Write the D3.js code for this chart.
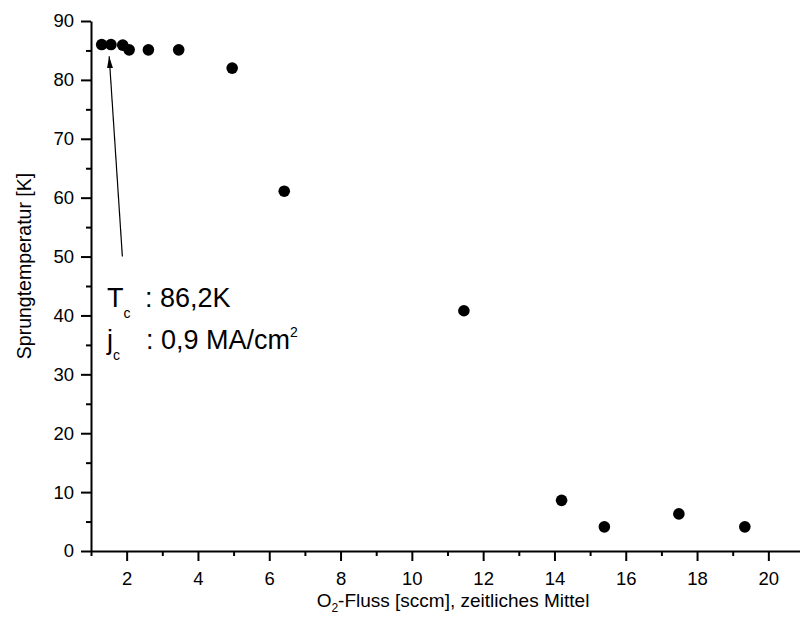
<!DOCTYPE html>
<html>
<head>
<meta charset="utf-8">
<script src="https://cdn.jsdelivr.net/npm/d3@7"></script>
<style>
  html, body { margin: 0; padding: 0; background: #fff; }
  svg { display: block; font-family: "Liberation Sans", Arial, sans-serif; }
</style>
</head>
<body>
<svg id="chart" width="800" height="634"></svg>
<script>
// ---- Data ----
const o2Flow = [1.30, 1.56, 1.89, 2.07, 2.61, 3.46, 4.96, 6.42, 11.46, 14.20, 15.40, 17.49, 19.34];
const tcValues = [86.0, 86.0, 85.9, 85.1, 85.1, 85.1, 82.0, 61.1, 40.8, 8.6, 4.1, 6.3, 4.1];
const xMajorTicks = [2, 4, 6, 8, 10, 12, 14, 16, 18, 20];
const xMinorTicks = [1, 3, 5, 7, 9, 11, 13, 15, 17, 19, 21];
const yMajorTicks = [0, 10, 20, 30, 40, 50, 60, 70, 80, 90];
const yMinorTicks = [5, 15, 25, 35, 45, 55, 65, 75, 85];
const xTitle = "O₂-Fluss [sccm], zeitliches Mittel";
const yTitle = "Sprungtemperatur [K]";
const arrowFrom = [1.88, 50];
const arrowTo = [1.51, 84.0];

// ---- Layout ----
const svg = d3.select("#chart");
const x = d3.scaleLinear().domain([1, 21]).range([91, 804]);
const y = d3.scaleLinear().domain([0, 90]).range([551, 21]);

const fontTick = 18.5;

// X minor ticks
svg.append("g")
  .attr("transform", `translate(0,${y(0)})`)
  .call(d3.axisBottom(x).tickValues(xMinorTicks).tickSize(5).tickSizeOuter(0).tickFormat(""))
  .call(g => g.select(".domain").remove())
  .call(g => g.selectAll("line").attr("stroke", "#000").attr("stroke-width", 2));

// X major
const gx = svg.append("g")
  .attr("transform", `translate(0,${y(0)})`)
  .call(d3.axisBottom(x).tickValues(xMajorTicks).tickSize(10).tickSizeOuter(0).tickPadding(10.5).tickFormat(d3.format("d")));
gx.select(".domain").attr("stroke", "#000").attr("stroke-width", 2);
gx.selectAll("line").attr("stroke", "#000").attr("stroke-width", 2);
gx.selectAll("text").attr("font-size", fontTick).attr("fill", "#000")
  .attr("font-family", "Liberation Sans, Arial, sans-serif");

// Y minor
svg.append("g")
  .attr("transform", `translate(${x(1)},0)`)
  .call(d3.axisLeft(y).tickValues(yMinorTicks).tickSize(5).tickSizeOuter(0).tickFormat(""))
  .call(g => g.select(".domain").remove())
  .call(g => g.selectAll("line").attr("stroke", "#000").attr("stroke-width", 2));

// Y major
const gy = svg.append("g")
  .attr("transform", `translate(${x(1)},0)`)
  .call(d3.axisLeft(y).tickValues(yMajorTicks).tickSize(10).tickSizeOuter(0).tickPadding(7).tickFormat(d3.format("d")));
gy.select(".domain").attr("stroke", "#000").attr("stroke-width", 2);
gy.selectAll("line").attr("stroke", "#000").attr("stroke-width", 2);
gy.selectAll("text").attr("font-size", fontTick).attr("fill", "#000")
  .attr("font-family", "Liberation Sans, Arial, sans-serif");

// Axis titles
const xt = svg.append("text")
  .attr("x", 453).attr("y", 607)
  .attr("text-anchor", "middle")
  .attr("font-size", 19).attr("fill", "#000");
xt.append("tspan").text("O");
xt.append("tspan").attr("font-size", 12).attr("dy", 5).text("2");
xt.append("tspan").attr("dy", -5).text("-Fluss [sccm], zeitliches Mittel");

svg.append("text")
  .attr("transform", "translate(31,266) rotate(-90)")
  .attr("text-anchor", "middle")
  .attr("font-size", 19.5).attr("fill", "#000")
  .text(yTitle);

// Data points
svg.append("g").selectAll("circle")
  .data(o2Flow.map((v, i) => [v, tcValues[i]]))
  .join("circle")
  .attr("cx", d => x(d[0]))
  .attr("cy", d => y(d[1]))
  .attr("r", 5.8)
  .attr("fill", "#000");

// Arrow
svg.append("defs").append("marker")
  .attr("id", "ah").attr("viewBox", "0 0 12 6")
  .attr("refX", 12).attr("refY", 3)
  .attr("markerWidth", 12).attr("markerHeight", 6)
  .attr("markerUnits", "userSpaceOnUse")
  .attr("orient", "auto")
  .append("path").attr("d", "M0,0 L12,3 L0,6 Z").attr("fill", "#000");

svg.append("line")
  .attr("x1", x(arrowFrom[0])).attr("y1", y(arrowFrom[1]))
  .attr("x2", x(arrowTo[0])).attr("y2", y(arrowTo[1]))
  .attr("stroke", "#000").attr("stroke-width", 1.2)
  .attr("marker-end", "url(#ah)");

// Annotation text
const fa = 27;
const t1 = svg.append("text").attr("font-size", fa).attr("fill", "#000");
t1.append("tspan").attr("x", 107).attr("y", 307).text("T");
t1.append("tspan").attr("font-size", 14).attr("dy", 11).text("c");
t1.append("tspan").attr("x", 145).attr("y", 307).text(": 86,2K");

const t2 = svg.append("text").attr("font-size", fa).attr("fill", "#000");
t2.append("tspan").attr("x", 107).attr("y", 349).text("j");
t2.append("tspan").attr("font-size", 14).attr("dy", 11).text("c");
t2.append("tspan").attr("x", 146).attr("y", 349).text(": 0,9 MA/cm");
t2.append("tspan").attr("font-size", 14).attr("dy", -12).text("2");
</script>
</body>
</html>
